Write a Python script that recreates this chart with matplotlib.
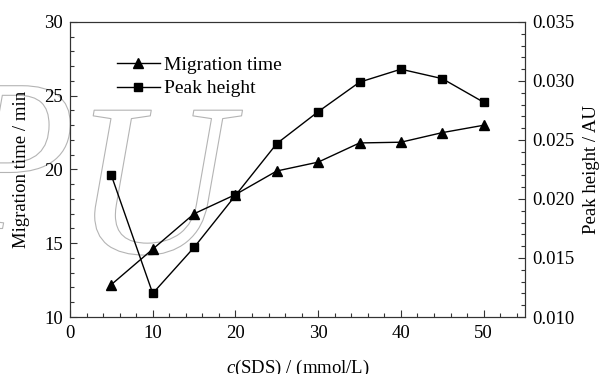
import matplotlib
matplotlib.use('Agg')
import matplotlib.pyplot as plt
import matplotlib.patheffects as pe
from matplotlib.ticker import MultipleLocator, FormatStrFormatter

plt.rcParams['font.family'] = ['Liberation Serif', 'DejaVu Serif']
plt.rcParams['mathtext.fontset'] = 'custom'
plt.rcParams['mathtext.it'] = 'Liberation Serif:italic'
plt.rcParams['mathtext.rm'] = 'Liberation Serif'

# data
sds = [5, 10, 15, 20, 25, 30, 35, 40, 45, 50]
migration_time = [12.2, 14.6, 17.0, 18.3, 19.9, 20.5, 21.8, 21.85, 22.5, 23.0]
peak_height = [0.0220, 0.0120, 0.0159, 0.0203, 0.0247, 0.0274, 0.0299, 0.0310, 0.0302, 0.0282]

fig = plt.figure(figsize=(6.05, 3.74), dpi=100)
ax = fig.add_axes([70/605, 1 - 317/374, 455/605, 295/374])
ax2 = ax.twinx()

# watermark outline letters
for txt, x, y in [('P', -0.28, 0.30), ('U', 0.007, 0.217)]:
    ax.text(x, y, txt, transform=ax.transAxes, fontsize=157, fontstyle='italic',
            color=(1, 1, 1, 0), zorder=0, clip_on=False,
            path_effects=[pe.Stroke(linewidth=0.8, foreground='#b4b4b4')])

l1, = ax.plot(sds, migration_time, color='black', lw=1, marker='^', ms=7.5,
              label='Migration time', zorder=3)
l2, = ax2.plot(sds, peak_height, color='black', lw=1, marker='s', ms=5.5,
               label='Peak height', zorder=3)

ax.set_xlim(0, 55)
ax.set_ylim(10, 30)
ax2.set_ylim(0.010, 0.035)

ax.xaxis.set_major_locator(MultipleLocator(10))
ax.xaxis.set_minor_locator(MultipleLocator(2))
ax.yaxis.set_major_locator(MultipleLocator(5))
ax.yaxis.set_minor_locator(MultipleLocator(1))
ax2.yaxis.set_major_locator(MultipleLocator(0.005))
ax2.yaxis.set_minor_locator(MultipleLocator(0.001))
ax2.yaxis.set_major_formatter(FormatStrFormatter('%.3f'))

for a in (ax, ax2):
    a.tick_params(which='both', direction='in', labelsize=13.5, width=0.8, color='#333333')
    a.tick_params(which='major', length=5)
    a.tick_params(which='minor', length=3)
    for s in a.spines.values():
        s.set_linewidth(0.8)
        s.set_color('#333333')
ax.tick_params(axis='x', which='both', top=False, pad=6)
ax.tick_params(axis='y', which='both', right=False, pad=5)
ax2.tick_params(axis='y', which='both', pad=5)

ax.set_xlabel('$c$(SDS) / (mmol/L)', fontsize=13.5, labelpad=11)
ax.set_ylabel('Migration time / min', fontsize=13.5, labelpad=10)
ax2.set_ylabel('Peak height / AU', fontsize=13.5, labelpad=6)

ax.legend([l1, l2], ['Migration time', 'Peak height'], loc='upper left',
          bbox_to_anchor=(0.086, 0.91), frameon=False, fontsize=14,
          handlelength=2.2, handletextpad=0.2, labelspacing=0.3,
          borderaxespad=0)

fig.savefig('out.png', dpi=100)
